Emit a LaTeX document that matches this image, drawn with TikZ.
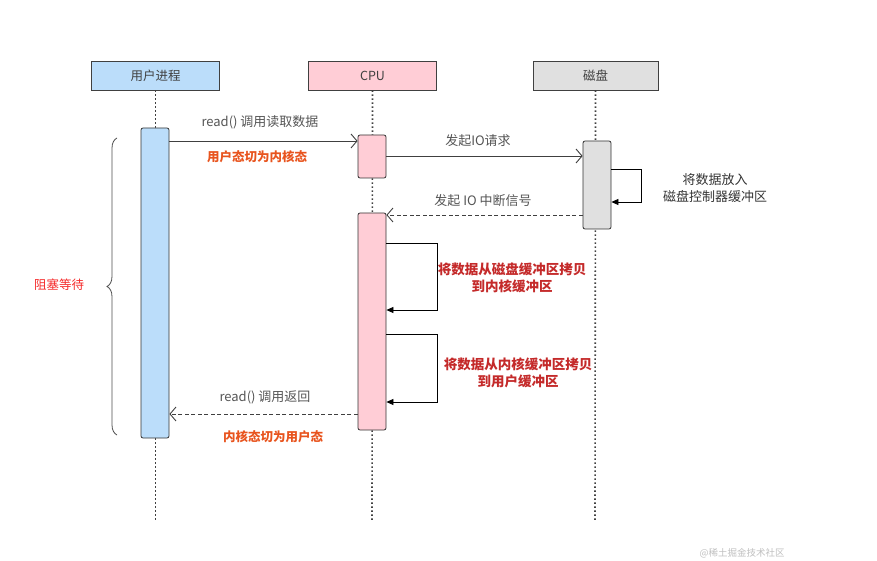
\documentclass[tikz,border=0pt]{standalone}
\usepackage{fontspec}
\setmainfont{Noto Sans CJK SC}
\usetikzlibrary{arrows.meta,decorations.pathreplacing}
\definecolor{ublue}{HTML}{BBDDFA}
\definecolor{cpink}{HTML}{FFCDD6}
\definecolor{dgray}{HTML}{E0E0E0}
\definecolor{lbl}{HTML}{555555}
\definecolor{orng}{HTML}{E8541E}
\definecolor{dred}{HTML}{C42A2A}
\definecolor{bred}{HTML}{F52A2A}
\tikzset{
  head/.style={draw=black!75, line width=0.8pt, minimum width=128pt, minimum height=29pt, inner sep=0pt, font=\fontsize{12.5}{14}\selectfont, text=black!75},
  act/.style={draw=black!80, line width=0.8pt, rounded corners=2pt, minimum width=28pt, inner sep=0pt},
  life/.style={line width=1.6pt, dash pattern=on 1.4pt off 2.6pt, black!75},
  msg/.style={line width=0.9pt, black!75, -{Straight Barb[length=6pt,width=14pt]}},
  rmsg/.style={msg, dash pattern=on 4pt off 2.5pt},
  selfl/.style={line width=0.8pt, black, -{Triangle[length=7pt,width=6pt]}},
  lab/.style={font=\fontsize{13}{15}\selectfont, text=lbl},
  olab/.style={font=\bfseries\fontsize{12.5}{15}\selectfont, text=orng},
  rlab/.style={font=\bfseries\fontsize{13.5}{17}\selectfont, text=dred, align=center},
  glab/.style={font=\fontsize{13}{17}\selectfont, text=black!80, align=center}
}
\begin{document}
\begin{tikzpicture}[x=1pt,y=-1pt]
\useasboundingbox (0,0) rectangle (877,561);
\clip (0,0) rectangle (877,561);
% headers
\node[head, fill=ublue] (hu) at (155.5,75.5) {用户进程};
\node[head, fill=cpink] (hc) at (372.5,75.5) {CPU};
\node[head, fill=dgray, minimum width=125pt] (hd) at (595.5,75.5) {磁盘};
% lifeline ends
\coordinate (eu) at (155.5,520);
\coordinate (ec) at (372,520);
\coordinate (ed) at (595,520);
\draw[life] (hu.south) -- (eu);
\draw[life] (hc.south) -- (ec);
\draw[life] (hd.south) -- (ed);
% activation boxes
\node[act, fill=ublue, minimum height=310pt] (au) at (155,283) {};
\node[act, fill=cpink, minimum height=43pt] (ac1) at (372,156.5) {};
\node[act, fill=cpink, minimum height=217pt] (ac2) at (372,321.5) {};
\node[act, fill=dgray, minimum height=88pt] (ad) at (597,185) {};
% read() call
\draw[msg] (au.north east |- 0,141) -- (ac1.west |- 0,141);
\node[lab] (l1) at (260,122) {read() 调用读取数据};
\node[olab] (l2) at (257,157) {用户态切为内核态};
% IO request
\draw[msg] (ac1.east |- 0,156) -- (ad.west |- 0,156);
\node[lab] (l3) at (478,141) {发起IO请求};
% disk self loop
\coordinate (d1) at (641,169);
\coordinate (d2) at (641,202);
\draw[selfl] (ad.east |- d1) -- (d1) -- (d2) -- (ad.east |- d2);
\node[glab] (l4) at (715,188) {将数据放入\\磁盘控制器缓冲区};
% interrupt
\draw[rmsg] (ad.west |- 0,215) -- (ac2.east |- 0,215);
\node[lab] (l5) at (483,201) {发起 IO 中断信号};
% CPU loops
\coordinate (c1) at (437,243);
\coordinate (c2) at (437,310);
\draw[selfl] (ac2.east |- c1) -- (c1) -- (c2) -- (ac2.east |- c2);
\node[rlab] (l6) at (512,278) {将数据从磁盘缓冲区拷贝\\到内核缓冲区};
\coordinate (c3) at (437,334);
\coordinate (c4) at (437,402);
\draw[selfl] (ac2.east |- c3) -- (c3) -- (c4) -- (ac2.east |- c4);
\node[rlab] (l7) at (518,373) {将数据从内核缓冲区拷贝\\到用户缓冲区};
% return
\draw[rmsg] (ac2.west |- 0,414) -- (au.east |- 0,414);
\node[lab] (l8) at (265,397) {read() 调用返回};
\node[olab] (l9) at (273,437) {内核态切为用户态};
% brace
\coordinate (b1) at (117,435);
\coordinate (b2) at (117,138);
\draw[black!70, line width=0.8pt, decorate, decoration={brace, amplitude=10pt}] (b1) -- (b2);
\node[font=\fontsize{12.5}{14}\selectfont, text=bred] (l10) at (59,285) {阻塞等待};
% watermark
\node[font=\fontsize{9.5}{11}\selectfont, text=black!25] (wm) at (742,553) {@稀土掘金技术社区};
\end{tikzpicture}
\end{document}
